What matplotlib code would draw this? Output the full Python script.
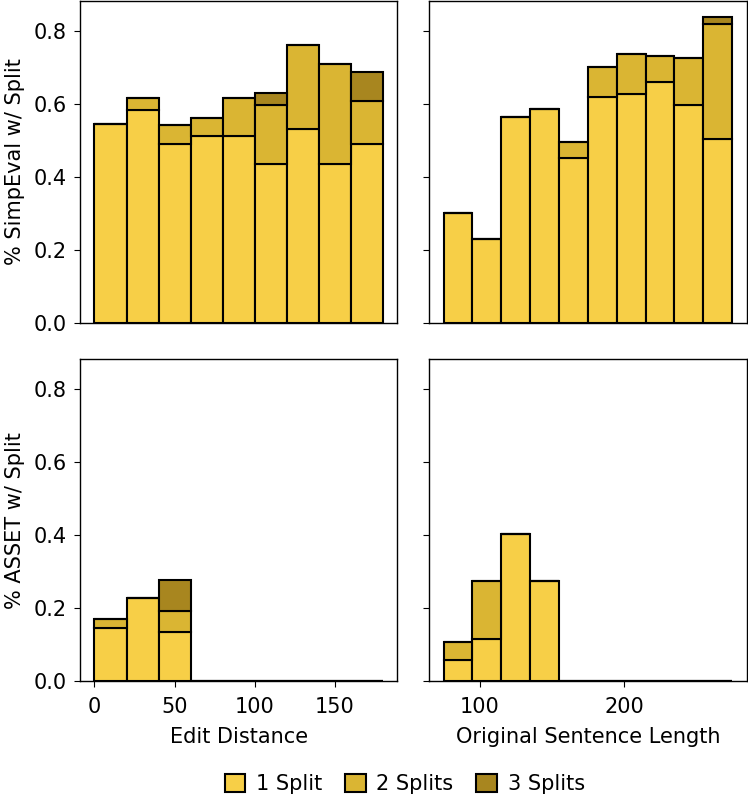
import numpy as np
from matplotlib import pyplot as plt

# bin edges
edit_edges = np.arange(0, 181, 20)
len_edges = np.arange(75, 276, 20)

split_labels = ["1 Split", "2 Splits", "3 Splits"]
colors = ["#F7CF47", "#DAB533", "#A8861F"]

# cumulative heights (top of 1 split, top of 2 splits, top of 3 splits)
simp_edit_1 = [0.545, 0.584, 0.490, 0.513, 0.513, 0.434, 0.530, 0.436, 0.489]
simp_edit_2 = [0.545, 0.615, 0.541, 0.562, 0.616, 0.597, 0.760, 0.710, 0.608]
simp_edit_3 = [0.545, 0.615, 0.541, 0.562, 0.616, 0.629, 0.760, 0.710, 0.687]

simp_len_1 = [0.300, 0.229, 0.563, 0.586, 0.451, 0.619, 0.627, 0.660, 0.596, 0.504]
simp_len_2 = [0.300, 0.229, 0.563, 0.586, 0.495, 0.700, 0.737, 0.732, 0.726, 0.819]
simp_len_3 = [0.300, 0.229, 0.563, 0.586, 0.495, 0.700, 0.737, 0.732, 0.726, 0.839]

asset_edit_1 = [0.145, 0.229, 0.136, 0, 0, 0, 0, 0, 0]
asset_edit_2 = [0.171, 0.229, 0.193, 0, 0, 0, 0, 0, 0]
asset_edit_3 = [0.171, 0.229, 0.277, 0, 0, 0, 0, 0, 0]

asset_len_1 = [0.059, 0.116, 0.404, 0.274, 0, 0, 0, 0, 0, 0]
asset_len_2 = [0.106, 0.274, 0.404, 0.274, 0, 0, 0, 0, 0, 0]
asset_len_3 = [0.106, 0.274, 0.404, 0.274, 0, 0, 0, 0, 0, 0]


def stacked(ax, edges, cums):
    left = edges[:-1]
    width = np.diff(edges)
    bottom = np.zeros(len(left))
    for cum, c, lab in zip(cums, colors, split_labels):
        cum = np.array(cum)
        ax.bar(left, cum - bottom, width=width, bottom=bottom, align="edge",
               color=c, edgecolor="black", linewidth=1.5, label=lab)
        bottom = cum


plt.rcParams["font.size"] = 15
plt.rcParams["axes.linewidth"] = 1.0
plt.rcParams["xtick.major.pad"] = 7
plt.rcParams["ytick.major.pad"] = 5
plt.rcParams["xtick.major.size"] = 4.5
plt.rcParams["ytick.major.size"] = 4.5
fig, axes = plt.subplots(2, 2, figsize=(7.48, 8.09), sharey=True)
fig.subplots_adjust(left=0.107, right=0.998, top=0.999, bottom=0.158,
                    wspace=0.1, hspace=0.112)

stacked(axes[0, 0], edit_edges, [simp_edit_1, simp_edit_2, simp_edit_3])
stacked(axes[0, 1], len_edges, [simp_len_1, simp_len_2, simp_len_3])
stacked(axes[1, 0], edit_edges, [asset_edit_1, asset_edit_2, asset_edit_3])
stacked(axes[1, 1], len_edges, [asset_len_1, asset_len_2, asset_len_3])

for ax in axes[0]:
    ax.tick_params(axis="x", bottom=False, labelbottom=False)
axes[1, 0].set_xticks([0, 50, 100, 150])
axes[1, 1].set_xticks([100, 200])
axes[0, 0].set_xlim(-9, 189)
axes[1, 0].set_xlim(-9, 189)
axes[0, 1].set_xlim(65, 285)
axes[1, 1].set_xlim(65, 285)
axes[0, 0].set_ylim(0, 0.882)
axes[0, 0].set_yticks([0, 0.2, 0.4, 0.6, 0.8])

axes[0, 0].set_ylabel("% SimpEval w/ Split", labelpad=6)
axes[1, 0].set_ylabel("% ASSET w/ Split", labelpad=6)
axes[1, 0].set_xlabel("Edit Distance", labelpad=7)
axes[1, 1].set_xlabel("Original Sentence Length", labelpad=7)

handles, labels = axes[0, 0].get_legend_handles_labels()
fig.legend(handles, labels, loc="center", bbox_to_anchor=(0.541, 0.031),
           ncol=3, frameon=False, handlelength=1.0, handleheight=1.0,
           columnspacing=1.1, handletextpad=0.5)

fig.savefig("out.png", dpi=100)
